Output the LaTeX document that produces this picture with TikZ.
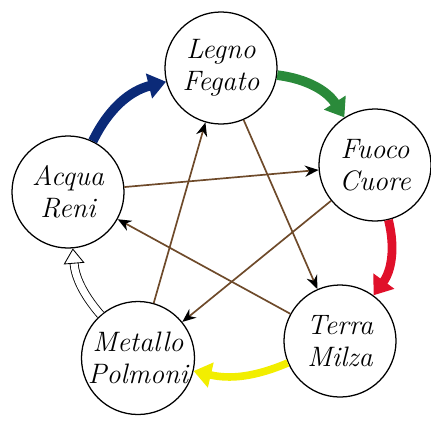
\documentclass[tikz,border=0pt]{standalone}
\usetikzlibrary{arrows.meta,positioning}
\definecolor{waterblue}{HTML}{0B2A78}
\definecolor{woodgreen}{HTML}{2A8A3A}
\definecolor{firered}{HTML}{E0102A}
\definecolor{earthyellow}{HTML}{F2EE00}
\definecolor{ctrlbrown}{HTML}{6E4A2A}

\begin{document}
\begin{tikzpicture}[x=0.025cm, y=-0.025cm,
  every node/.style={font=\fontsize{20}{23}\selectfont\itshape},
  elem/.style={circle, draw, line width=0.9pt, minimum size=2.8cm,
               inner sep=0pt, align=center, fill=white},
  gen/.style={-{Triangle[length=4.4mm, width=6.2mm]}, line width=2.4mm, bend left=25},
  ctrl/.style={-{Stealth[length=3.4mm, width=2.8mm, inset=1.1mm, black]},
               draw=ctrlbrown, line width=1.2pt}
]
\useasboundingbox (0,0) rectangle (431,421);

%% the five elements
\node[elem] (legno)   at (221, 68)  {Legno\\Fegato};
\node[elem] (fuoco)   at (375,165)  {Fuoco\\Cuore};
\node[elem] (terra)   at (340,341)  {Terra\\Milza};
\node[elem] (metallo) at (138,358)  {Metallo\\Polmoni};
\node[elem] (acqua)   at ( 68,192)  {Acqua\\Reni};

%% generating cycle (outer)
\draw[gen, draw=waterblue]  (acqua) to (legno);
\draw[gen, draw=woodgreen]  (legno) to (fuoco);
\draw[gen, draw=firered, line width=2.2mm] (fuoco) to (terra);
\draw[gen, draw=earthyellow, bend left=18, line width=1.9mm] (terra) to (metallo);
\draw[gen, bend left=18, line width=0.6pt, draw=black, double=white,
      double distance=1.8mm,
      -{Triangle[open, fill=white, length=3.8mm, width=5.2mm]}] (metallo) to (acqua);

%% controlling cycle (inner star)
\foreach \a/\b in {legno/terra, fuoco/metallo, terra/acqua, metallo/legno, acqua/fuoco}
  \draw[ctrl] (\a) -- (\b);

\end{tikzpicture}
\end{document}
